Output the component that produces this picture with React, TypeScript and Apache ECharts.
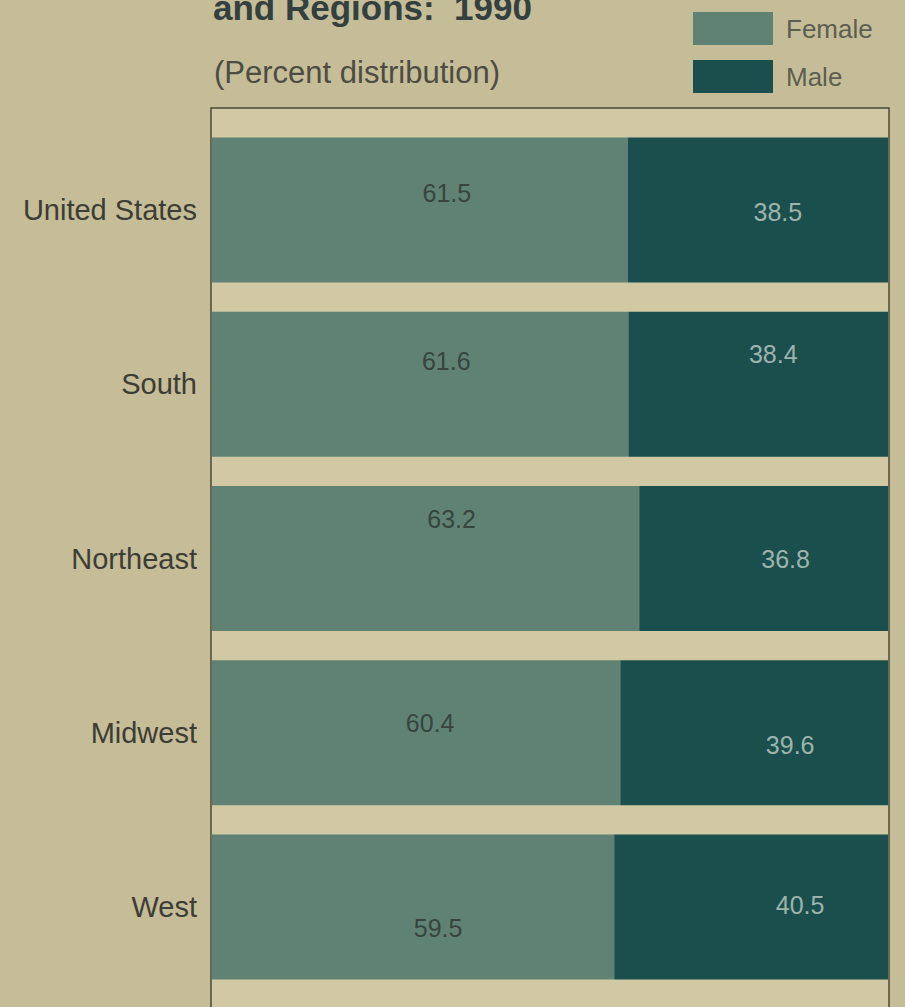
import React, { useEffect, useRef } from "react";
import * as echarts from "echarts";

const categories = ["United States", "South", "Northeast", "Midwest", "West"];
const femaleValues = [61.5, 61.6, 63.2, 60.4, 59.5];
const maleValues = [38.5, 38.4, 36.8, 39.6, 40.5];

// label nudges (styling only) to mimic the printed placement
const femaleLabelOffsets = [[27, -17], [26, -23], [26, -40], [14, -10], [25, 21]];
const maleLabelOffsets = [[20, 2], [15, -30], [22, 0], [36, 12], [49, -2]];

export default function App() {
  const ref = useRef<HTMLDivElement>(null);
  useEffect(() => {
    if (!ref.current) return;
    const chart = echarts.init(ref.current, null, { renderer: "svg" });
    const font = "Liberation Sans, Arial, sans-serif";
    chart.setOption({
      animation: false,
      backgroundColor: "#c4bd97",
      textStyle: { fontFamily: font },
      legend: {
        data: ["Female", "Male"],
        orient: "vertical",
        left: 688,
        top: 7,
        itemWidth: 80,
        itemHeight: 33,
        itemGap: 15,
        icon: "rect",
        selectedMode: false,
        textStyle: { fontSize: 26, color: "#5e5d52", fontFamily: font, padding: [8, 0, 0, 8] },
      },
      graphic: [
        {
          type: "rect",
          z: 0,
          silent: true,
          shape: { x: 211, y: 108, width: 678, height: 920 },
          style: { fill: "#d0c9a4", stroke: "#4a4838", lineWidth: 1.5 },
        },
        {
          type: "text",
          left: 213,
          top: -10,
          silent: true,
          style: { text: "and Regions:  1990", fontSize: 35, fontWeight: "bold", fill: "#33403f", fontFamily: font },
        },
        {
          type: "text",
          left: 214,
          top: 57,
          silent: true,
          style: { text: "(Percent distribution)", fontSize: 31, fill: "#4e4c42", fontFamily: font },
        },
      ],
      grid: { left: 212, top: 123, width: 676, height: 871, containLabel: false },
      xAxis: { type: "value", min: 0, max: 100, show: false },
      yAxis: {
        type: "category",
        data: categories,
        inverse: true,
        axisLine: { show: false },
        axisTick: { show: false },
        axisLabel: { fontSize: 29, color: "#3d3c35", margin: 15, fontFamily: font },
      },
      series: [
        {
          name: "Female",
          type: "bar",
          stack: "total",
          barWidth: 145,
          itemStyle: { color: "#5f8275" },
          data: femaleValues.map((v, i) => ({
            value: v,
            label: {
              show: true,
              position: "inside",
              offset: femaleLabelOffsets[i],
              formatter: (p: any) => p.value.toFixed(1),
              fontSize: 25,
              color: "#37453f",
              fontFamily: font,
            },
          })),
        },
        {
          name: "Male",
          type: "bar",
          stack: "total",
          barWidth: 145,
          itemStyle: { color: "#1b4f4d" },
          data: maleValues.map((v, i) => ({
            value: v,
            label: {
              show: true,
              position: "inside",
              offset: maleLabelOffsets[i],
              formatter: (p: any) => p.value.toFixed(1),
              fontSize: 25,
              color: "#9db4ad",
              fontFamily: font,
            },
          })),
        },
      ],
    });
    return () => chart.dispose();
  }, []);
  return <div ref={ref} style={{ width: 905, height: 1007, position: "fixed", left: 0, top: 0 }} />;
}
